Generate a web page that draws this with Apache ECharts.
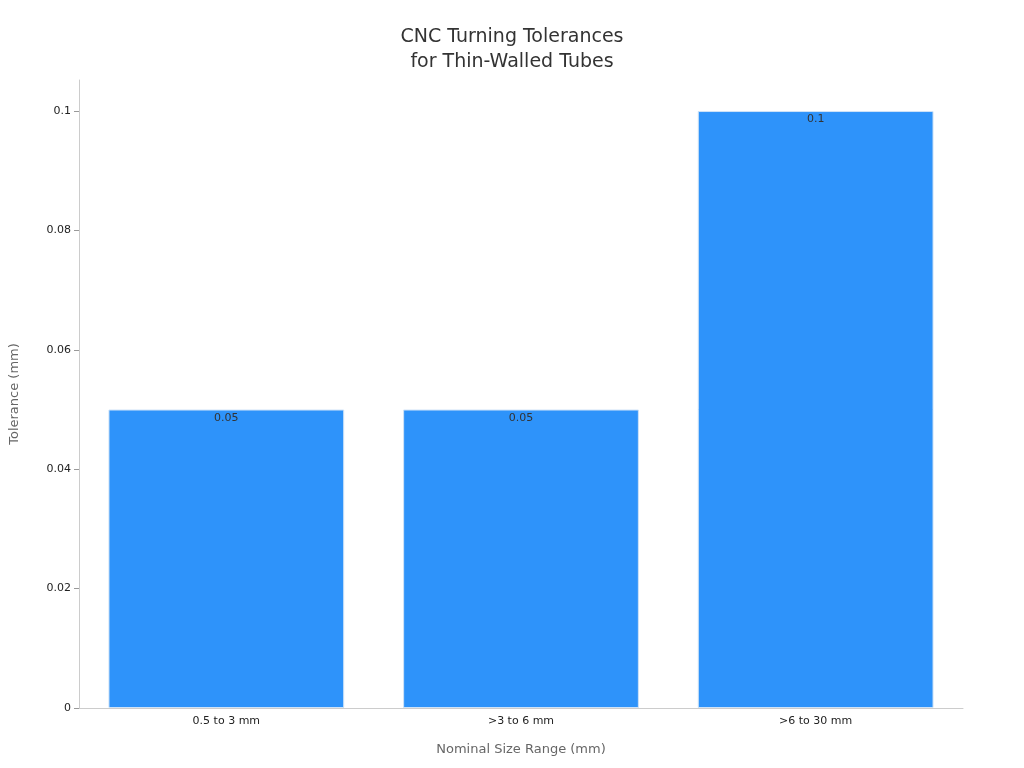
<!DOCTYPE html>
<html><head><meta charset="utf-8">
<script src="https://cdn.jsdelivr.net/npm/echarts@6/dist/echarts.min.js"></script>
<style>html,body{margin:0;padding:0}#c{width:1024px;height:768px}</style>
</head><body><div id="c"></div>
<script>
const categories = ["0.5 to 3 mm", ">3 to 6 mm", ">6 to 30 mm"];
const tolerances = [0.05, 0.05, 0.1];
const chart = echarts.init(document.getElementById('c'));
chart.setOption({
  backgroundColor: '#fff',
  textStyle: {fontFamily: 'DejaVu Sans'},
  title: {text: 'CNC Turning Tolerances\nfor Thin-Walled Tubes', left: 'center', top: 20,
    textStyle: {fontSize: 19, fontWeight: 'normal', color: '#333', lineHeight: 25, fontFamily: 'DejaVu Sans'}},
  grid: {left: 72, right: 61, top: 80, bottom: 60},
  xAxis: {type: 'category', data: categories, name: 'Nominal Size Range (mm)', nameLocation: 'middle', nameGap: 35,
    nameTextStyle: {color: '#666', fontSize: 13},
    axisLine: {lineStyle: {color: '#ccc'}}, axisTick: {show: false},
    axisLabel: {color: '#222', fontSize: 11}},
  yAxis: {type: 'value', min: 0, max: 0.1052, interval: 0.02, name: 'Tolerance (mm)', nameLocation: 'middle', nameGap: 58,
    nameTextStyle: {color: '#666', fontSize: 13},
    axisLine: {show: true, lineStyle: {color: '#ccc'}}, axisTick: {show: true, lineStyle: {color: '#999'}},
    splitLine: {show: false},
    axisLabel: {color: '#222', fontSize: 11, showMaxLabel: false, formatter: v => String(+v.toFixed(3))}},
  series: [{type: 'bar', data: tolerances, barWidth: '80%',
    itemStyle: {color: '#2e93fa', borderColor: '#cfe3f7', borderWidth: 1},
    label: {show: true, position: 'insideTop', color: '#333', fontSize: 11, offset: [0, -2]}}]
});
</script></body></html>
